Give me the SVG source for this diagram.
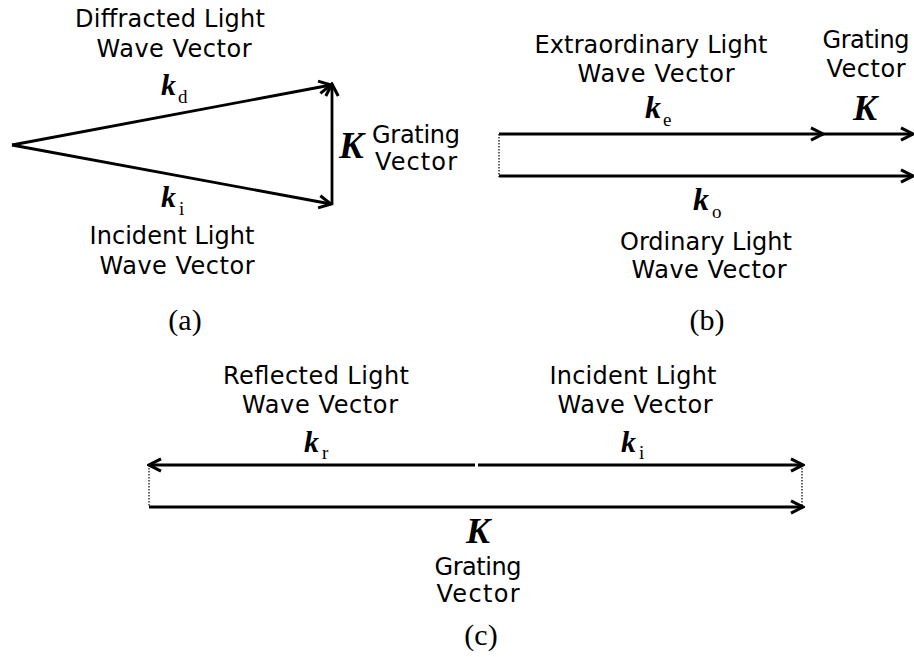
<svg xmlns="http://www.w3.org/2000/svg" width="914" height="657" viewBox="0 0 914 657">
<defs>
<marker id="arr" viewBox="0 0 16 16" refX="14" refY="8" markerWidth="16" markerHeight="16" markerUnits="userSpaceOnUse" orient="auto">
<path d="M2,1.8 L14,8 L2,14.2" fill="none" stroke="#000" stroke-width="3" stroke-linejoin="miter"/>
</marker>
</defs>
<style>
.t{font-family:"DejaVu Sans","Noto Sans",sans-serif;font-size:24px;fill:#000}
.m{font-family:"Liberation Serif","Times New Roman",serif;font-weight:bold;font-style:italic;fill:#000}
.s{font-family:"Liberation Serif","Times New Roman",serif;font-size:19px;fill:#000}
.cap{font-family:"Liberation Serif","Times New Roman",serif;font-size:30px;fill:#000;text-anchor:middle}
.v{stroke:#000;stroke-width:2.8;fill:none;marker-end:url(#arr)}
.d{stroke:#000;stroke-width:1.2;fill:none;stroke-dasharray:1.5 1.5}
</style>
<rect width="914" height="657" fill="#fff"/>
<g id="connectors">
<line class="v" x1="12" y1="145" x2="331" y2="85"/>
<line class="v" x1="12" y1="145" x2="331" y2="204"/>
<line class="v" x1="332" y1="205" x2="332" y2="84"/>
<line class="d" x1="499" y1="134" x2="499" y2="177"/>
<line class="v" x1="499" y1="134" x2="823" y2="134"/>
<line class="v" x1="823" y1="134" x2="913" y2="134"/>
<line class="v" x1="499" y1="176" x2="913" y2="176"/>
<line class="d" x1="149" y1="465" x2="149" y2="507"/>
<line class="d" x1="802" y1="465" x2="802" y2="507"/>
<line class="v" x1="475" y1="465" x2="149" y2="465"/>
<line class="v" x1="478" y1="465" x2="803" y2="465"/>
<line class="v" x1="149" y1="507" x2="803" y2="507"/>
</g>
<g id="a-kd">
<text class="t" x="170" y="27" text-anchor="middle" textLength="190" lengthAdjust="spacing">Diffracted Light</text>
<text class="t" x="174" y="57" text-anchor="middle" textLength="155" lengthAdjust="spacing">Wave Vector</text>
<text class="m" x="161" y="95" font-size="30">k</text>
<text class="s" x="178" y="103">d</text>
</g>
<g id="a-K">
<text class="m" x="339" y="158" font-size="37">K</text>
<text class="t" x="372" y="143" textLength="88" lengthAdjust="spacing">Grating</text>
<text class="t" x="375" y="170" textLength="82" lengthAdjust="spacing">Vector</text>
</g>
<g id="a-ki">
<text class="m" x="161" y="207" font-size="30">k</text>
<text class="s" x="179" y="215">i</text>
<text class="t" x="172" y="244" text-anchor="middle" textLength="165" lengthAdjust="spacing">Incident Light</text>
<text class="t" x="177" y="274" text-anchor="middle" textLength="155" lengthAdjust="spacing">Wave Vector</text>
</g>
<g id="a-cap"><text class="cap" x="185" y="330">(a)</text></g>
<g id="b-ke">
<text class="t" x="651" y="53" text-anchor="middle" textLength="233" lengthAdjust="spacing">Extraordinary Light</text>
<text class="t" x="656" y="82" text-anchor="middle" textLength="157" lengthAdjust="spacing">Wave Vector</text>
<text class="m" x="645" y="118" font-size="32">k</text>
<text class="s" x="663" y="126">e</text>
</g>
<g id="b-K">
<text class="t" x="866" y="48" text-anchor="middle" textLength="87" lengthAdjust="spacing">Grating</text>
<text class="t" x="866" y="77" text-anchor="middle" textLength="79" lengthAdjust="spacing">Vector</text>
<text class="m" x="853" y="120" font-size="36">K</text>
</g>
<g id="b-ko">
<text class="m" x="693" y="210" font-size="32">k</text>
<text class="s" x="712" y="218">o</text>
<text class="t" x="706" y="250" text-anchor="middle" textLength="172" lengthAdjust="spacing">Ordinary Light</text>
<text class="t" x="709" y="278" text-anchor="middle" textLength="155" lengthAdjust="spacing">Wave Vector</text>
</g>
<g id="b-cap"><text class="cap" x="707" y="330">(b)</text></g>
<g id="c-kr">
<text class="t" x="316" y="384" text-anchor="middle" textLength="186" lengthAdjust="spacing">Reflected Light</text>
<text class="t" x="320" y="413" text-anchor="middle" textLength="156" lengthAdjust="spacing">Wave Vector</text>
<text class="m" x="304" y="452" font-size="30">k</text>
<text class="s" x="322" y="459">r</text>
</g>
<g id="c-ki">
<text class="t" x="633" y="384" text-anchor="middle" textLength="167" lengthAdjust="spacing">Incident Light</text>
<text class="t" x="635" y="413" text-anchor="middle" textLength="155" lengthAdjust="spacing">Wave Vector</text>
<text class="m" x="621" y="452" font-size="30">k</text>
<text class="s" x="639" y="459">i</text>
</g>
<g id="c-K">
<text class="m" x="466" y="543" font-size="36">K</text>
<text class="t" x="478" y="575" text-anchor="middle" textLength="87" lengthAdjust="spacing">Grating</text>
<text class="t" x="478" y="602" text-anchor="middle" textLength="83" lengthAdjust="spacing">Vector</text>
</g>
<g id="c-cap"><text class="cap" x="481" y="645">(c)</text></g>
</svg>
